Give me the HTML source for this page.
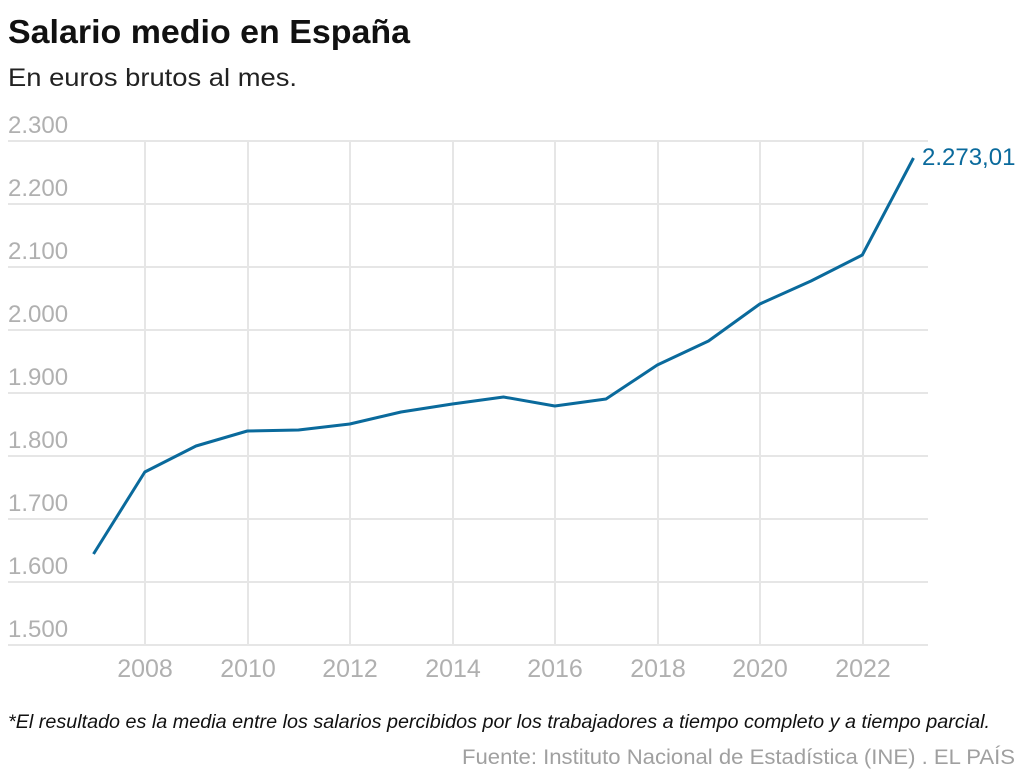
<!DOCTYPE html>
<html><head><meta charset="utf-8"><style>
html,body{margin:0;padding:0;background:#fff;width:1024px;height:784px;overflow:hidden}
svg{display:block;font-family:"Liberation Sans",sans-serif}
</style></head><body>
<svg width="1024" height="784" viewBox="0 0 1024 784">
<text x="8" y="43" font-size="33" font-weight="bold" fill="#111" textLength="402" lengthAdjust="spacingAndGlyphs">Salario medio en España</text>
<text x="8" y="86" font-size="25" fill="#222" textLength="289" lengthAdjust="spacingAndGlyphs">En euros brutos al mes.</text>
<g stroke="#e6e6e6" stroke-width="2">
<line x1="8" x2="928" y1="141" y2="141"/><line x1="8" x2="928" y1="204" y2="204"/>
<line x1="8" x2="928" y1="267" y2="267"/><line x1="8" x2="928" y1="330" y2="330"/>
<line x1="8" x2="928" y1="393" y2="393"/><line x1="8" x2="928" y1="456" y2="456"/>
<line x1="8" x2="928" y1="519" y2="519"/><line x1="8" x2="928" y1="582" y2="582"/>
<line x1="8" x2="928" y1="645" y2="645"/>
<line x1="145" x2="145" y1="141" y2="645"/><line x1="248" x2="248" y1="141" y2="645"/>
<line x1="350" x2="350" y1="141" y2="645"/><line x1="453" x2="453" y1="141" y2="645"/>
<line x1="555" x2="555" y1="141" y2="645"/><line x1="658" x2="658" y1="141" y2="645"/>
<line x1="760" x2="760" y1="141" y2="645"/><line x1="863" x2="863" y1="141" y2="645"/>
</g>
<g font-size="24" fill="#b0b0b0">
<text x="8" y="133">2.300</text><text x="8" y="196">2.200</text><text x="8" y="259">2.100</text>
<text x="8" y="322">2.000</text><text x="8" y="385">1.900</text><text x="8" y="448">1.800</text>
<text x="8" y="511">1.700</text><text x="8" y="574">1.600</text><text x="8" y="637">1.500</text>
</g>
<g font-size="25" fill="#b0b0b0" text-anchor="middle">
<text x="145" y="677">2008</text><text x="248" y="677">2010</text><text x="350" y="677">2012</text>
<text x="453" y="677">2014</text><text x="555" y="677">2016</text><text x="658" y="677">2018</text>
<text x="760" y="677">2020</text><text x="863" y="677">2022</text>
</g>
<polyline fill="none" stroke="#0a6a9c" stroke-width="3" stroke-linejoin="round" points="93.5,554 144.8,472 196,446 247.3,431 298.5,430 349.8,424 401,412 452.3,404 503.5,397 554.8,406 606,399 657.3,365 708.5,341 759.8,304 811,281 862.3,255 913.5,158"/>
<text x="922" y="165" font-size="24" fill="#0a6a9c">2.273,01</text>
<text x="8" y="728" font-size="19" font-style="italic" fill="#111" textLength="982" lengthAdjust="spacingAndGlyphs">*El resultado es la media entre los salarios percibidos por los trabajadores a tiempo completo y a tiempo parcial.</text>
<text x="1015" y="764" font-size="21" fill="#a0a0a0" text-anchor="end" textLength="553" lengthAdjust="spacingAndGlyphs">Fuente: Instituto Nacional de Estadística (INE) . EL PAÍS</text>
</svg>
</body></html>
